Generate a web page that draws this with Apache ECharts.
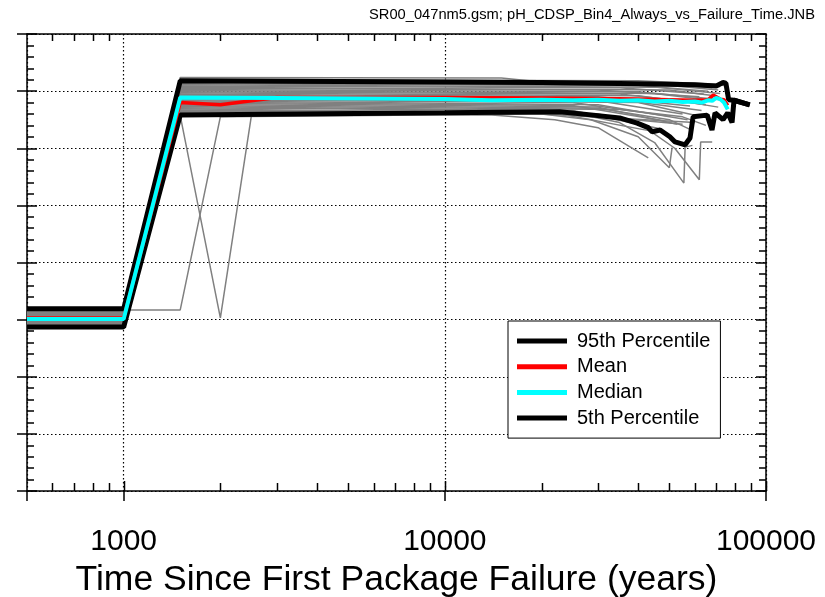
<!DOCTYPE html>
<html>
<head>
<meta charset="utf-8">
<script src="https://cdn.jsdelivr.net/npm/echarts@6/dist/echarts.min.js"></script>
<style>
  html, body { margin: 0; padding: 0; background: #fff; }
  #chart { width: 825px; height: 597px; }
</style>
</head>
<body>
<div id="chart"></div>
<script>
// Time since first package failure (years) vs pH, 4 statistics + individual realizations
const fileTitle = 'SR00_047nm5.gsm; pH_CDSP_Bin4_Always_vs_Failure_Time.JNB';
const xTitle = 'Time Since First Package Failure (years)';
const xTickLabels = [1000, 10000, 100000];
const xMinorTicks = [600, 700, 800, 900, 2000, 3000, 4000, 5000, 6000, 7000, 8000, 9000,
  20000, 30000, 40000, 50000, 60000, 70000, 80000, 90000];
const legendNames = ['95th Percentile', 'Mean', 'Median', '5th Percentile'];

const p95 = [[500,7.19],[1000,7.19],[1500,11.18],[10000,11.16],[20000,11.15],[40000,11.13],
  [60000,11.11],[70000,11.09],[73500,11.15],[75000,11.14],[76500,10.85],[79500,10.84],[89000,10.76]];
const p5 = [[500,6.87],[1000,6.87],[1500,10.58],[10000,10.62],[22800,10.64],[29000,10.58],
  [35000,10.53],[39700,10.44],[43000,10.36],[44200,10.29],[46800,10.32],[50200,10.2],
  [52100,10.11],[56000,10.06],[58000,10.18],[59300,10.55],[65600,10.58],[67900,10.32],
  [69400,10.62],[73500,10.5],[76000,10.62],[78400,10.45],[79500,10.84],[89000,10.76]];
const median = [[500,7.01],[1000,7.01],[1500,10.89],[3000,10.88],[6000,10.87],[10000,10.86],
  [12000,10.85],[14000,10.84],[20000,10.85],[25000,10.84],[30000,10.85],[35000,10.83],
  [40000,10.84],[45000,10.82],[50000,10.83],[55000,10.81],[60000,10.82],[63000,10.8],
  [66000,10.84],[68000,10.83],[70000,10.88],[72000,10.86],[74000,10.8],[76000,10.68]];
const mean = [[500,7.03],[1000,7.03],[1500,10.8],[2000,10.76],[2500,10.83],[3000,10.89],
  [10000,10.89],[20000,10.88],[30000,10.87],[40000,10.86],[50000,10.85],[60000,10.84],
  [66000,10.85],[68500,10.93],[70000,10.9],[72000,10.86],[74000,10.85],[76000,10.75]];

// individual realizations
const realizations = [
  [[500,7.15],[1000,7.15],[1500,11.24],[15000,11.23],[20000,11.16],[60000,11.12],[72000,11.08]],
  [[500,7.14],[1000,7.14],[1500,11.2],[40000,11.18],[70000,11.12],[74000,11.1]],
  [[500,7.13],[1000,7.13],[1500,11.17],[45000,11.14],[68000,11.06]],
  [[500,7.12],[1000,7.12],[1500,11.15],[50000,11.1],[71000,11.02]],
  [[500,7.11],[1000,7.11],[1500,11.13],[40000,11.1],[66000,11.0]],
  [[500,7.10],[1000,7.10],[1500,11.11],[45000,11.07],[72000,10.96]],
  [[500,7.09],[1000,7.09],[1500,11.09],[35000,11.06],[64000,10.95]],
  [[500,7.08],[1000,7.08],[1500,11.07],[50000,11.02],[69000,10.92]],
  [[500,7.07],[1000,7.07],[1500,11.05],[30000,11.02],[62000,10.9]],
  [[500,7.06],[1000,7.06],[1500,11.03],[40000,10.99],[70000,10.86]],
  [[500,7.05],[1000,7.05],[1500,11.01],[45000,10.96],[67000,10.84]],
  [[500,7.04],[1000,7.04],[1500,10.99],[35000,10.95],[60000,10.8]],
  [[500,7.03],[1000,7.03],[1500,10.97],[40000,10.92],[65000,10.76]],
  [[500,7.02],[1000,7.02],[1500,10.95],[30000,10.9],[58000,10.74]],
  [[500,7.01],[1000,7.01],[1500,10.93],[50000,10.86],[71000,10.72]],
  [[500,7.0],[1000,7.0],[1500,10.91],[35000,10.85],[63000,10.66]],
  [[500,6.99],[1000,6.99],[1500,10.89],[30000,10.83],[55000,10.6]],
  [[500,6.98],[1000,6.98],[1500,10.87],[40000,10.8],[61000,10.57]],
  [[500,6.97],[1000,6.97],[1500,10.85],[25000,10.8],[50000,10.56]],
  [[500,6.96],[1000,6.96],[1500,10.83],[30000,10.76],[57000,10.5]],
  [[500,6.95],[1000,6.95],[1500,10.81],[25000,10.75],[48000,10.48]],
  [[500,6.94],[1000,6.94],[1500,10.79],[30000,10.72],[53000,10.42]],
  [[500,6.93],[1000,6.93],[1500,10.77],[30000,10.7],[50000,10.5],[58000,10.33]],
  [[500,6.92],[1000,6.92],[1500,10.75],[35000,10.68],[55000,10.55],[65000,10.4]],
  [[500,6.93],[1000,6.93],[1500,10.73],[25000,10.66],[46000,10.35]],
  [[500,6.94],[1000,6.94],[1500,10.71],[20000,10.66],[44000,10.3]],
  [[500,6.96],[1000,6.96],[1500,10.69],[30000,10.6],[40000,10.45],[52000,10.0],[62000,9.45],[62600,10.11],[68000,10.11]],
  [[500,6.98],[1000,6.98],[1500,10.67],[25000,10.62],[35000,10.45],[45000,10.1],[55500,9.39],[56000,10.02],[59000,10.05]],
  [[500,7.0],[1000,7.0],[1500,10.65],[20000,10.6],[28500,10.5],[40000,10.2],[50000,9.66],[51000,10.01]],
  [[500,7.02],[1000,7.02],[1500,10.62],[14000,10.58],[22000,10.5],[30000,10.36],[43000,9.83]],
  [[500,7.17],[1000,7.17],[1500,7.17],[2000,10.55],[20000,10.6],[60000,10.45]],
  [[500,7.04],[1000,7.04],[1500,10.57],[2000,7.03],[2500,10.58],[25000,10.6],[55000,10.42]]
];

const FONT = 'Liberation Sans, Arial, sans-serif';
const dotted = { color: '#000', width: 1.2, type: [1.5, 2.5] };

const series = realizations.map(function (r) {
  return {
    type: 'line', data: r, showSymbol: false, symbol: 'none', silent: true,
    lineStyle: { color: '#808080', width: 1.5 }, z: 2
  };
});
series.push(
  { name: legendNames[0], type: 'line', data: p95, symbol: 'none', z: 3,
    lineStyle: { color: '#000', width: 5 }, itemStyle: { color: '#000' } },
  { name: legendNames[3], type: 'line', data: p5, symbol: 'none', z: 3,
    lineStyle: { color: '#000', width: 5 }, itemStyle: { color: '#000' } },
  { name: legendNames[1], type: 'line', data: mean, symbol: 'none', z: 4,
    lineStyle: { color: '#ff0000', width: 3.5 }, itemStyle: { color: '#ff0000' } },
  { name: legendNames[2], type: 'line', data: median, symbol: 'none', z: 5,
    lineStyle: { color: '#00ffff', width: 4 }, itemStyle: { color: '#00ffff' } }
);

const chart = echarts.init(document.getElementById('chart'), null, { renderer: 'canvas' });
const isDecade = function (v) {
  const l = Math.log10(v);
  return Math.abs(l - Math.round(l)) < 1e-6;
};
chart.setOption({
  animation: false,
  backgroundColor: '#fff',
  textStyle: { fontFamily: FONT },
  title: {
    text: fileTitle, right: 5, top: 2,
    textStyle: { fontSize: 14.7, fontWeight: 'normal', color: '#000', fontFamily: FONT }
  },
  grid: { left: 27, right: 59, top: 34, bottom: 106, containLabel: false, outerBoundsMode: 'none' },
  legend: {
    data: legendNames, orient: 'vertical', left: 508, top: 321,
    icon: 'rect', itemWidth: 50, itemHeight: 5, itemGap: 5.7,
    padding: [10, 10, 10, 9],
    backgroundColor: '#fff', borderColor: '#000', borderWidth: 1,
    textStyle: { fontSize: 20, color: '#000', fontFamily: FONT, padding: [0, 0, 0, 5] },
    selectedMode: false
  },
  xAxis: [
    {
      type: 'log', logBase: 10, min: 500, max: 100000, position: 'bottom',
      axisLine: { lineStyle: { color: '#000', width: 1.5 } },
      axisTick: { show: true, inside: false, length: 10, lineStyle: { color: '#000', width: 1.5 } },
      axisLabel: {
        color: '#000', fontSize: 30, margin: 36, fontFamily: FONT,
        formatter: function (v) { return isDecade(v) && xTickLabels.indexOf(Math.round(v)) >= 0 ? String(Math.round(v)) : ''; }
      },
      splitLine: { show: true, lineStyle: dotted },
      name: xTitle, nameLocation: 'middle', nameGap: 71,
      nameTextStyle: { fontSize: 35.5, color: '#000', fontFamily: FONT }
    },
    {
      type: 'log', logBase: 10, min: 500, max: 100000, position: 'top',
      axisLine: { lineStyle: { color: '#000', width: 1.5 } },
      axisTick: { show: false }, axisLabel: { show: false }, splitLine: { show: false }
    }
  ],
  yAxis: [
    {
      type: 'value', min: 4, max: 12, interval: 1, position: 'left',
      axisLine: { show: true, lineStyle: { color: '#000', width: 1.5 } },
      axisTick: { show: true, inside: true, length: 10, lineStyle: { color: '#000', width: 1.5 } },
      minorTick: { show: true, splitNumber: 5, length: 7, lineStyle: { color: '#000', width: 1.5 } },
      axisLabel: { show: false },
      splitLine: { show: true, lineStyle: dotted }
    },
    {
      type: 'value', min: 4, max: 12, interval: 1, position: 'left',
      axisLine: { show: false },
      axisTick: { show: true, inside: false, length: 10, lineStyle: { color: '#000', width: 1.5 } },
      axisLabel: { show: false }, splitLine: { show: false }
    },
    {
      type: 'value', min: 4, max: 12, interval: 1, position: 'right',
      axisLine: { show: true, lineStyle: { color: '#000', width: 1.5 } },
      axisTick: { show: true, inside: true, length: 10, lineStyle: { color: '#000', width: 1.5 } },
      minorTick: { show: true, splitNumber: 5, length: 7, lineStyle: { color: '#000', width: 1.5 } },
      axisLabel: { show: false }, splitLine: { show: false }
    }
  ],
  series: series
});

// minor ticks of the log axes (2..9 of each decade) plus inner halves of decade ticks
function drawLogTicks() {
  const yBottom = chart.convertToPixel({ yAxisIndex: 0 }, 4);
  const yTop = chart.convertToPixel({ yAxisIndex: 0 }, 12);
  const els = [];
  const tick = function (x, y1, y2) {
    els.push({ type: 'line', silent: true, z: 10,
      shape: { x1: x, y1: y1, x2: x, y2: y2 },
      style: { stroke: '#000', lineWidth: 1.5 } });
  };
  xMinorTicks.forEach(function (v) {
    const x = Math.round(chart.convertToPixel({ xAxisIndex: 0 }, v)) + 0.5;
    tick(x, yBottom, yBottom - 8);
    tick(x, yTop, yTop + 7);
  });
  xTickLabels.forEach(function (v) {
    const x = Math.round(chart.convertToPixel({ xAxisIndex: 0 }, v)) + 0.5;
    tick(x, yBottom, yBottom - 10);
  });
  chart.setOption({ graphic: els });
}
drawLogTicks();
</script>
</body>
</html>
